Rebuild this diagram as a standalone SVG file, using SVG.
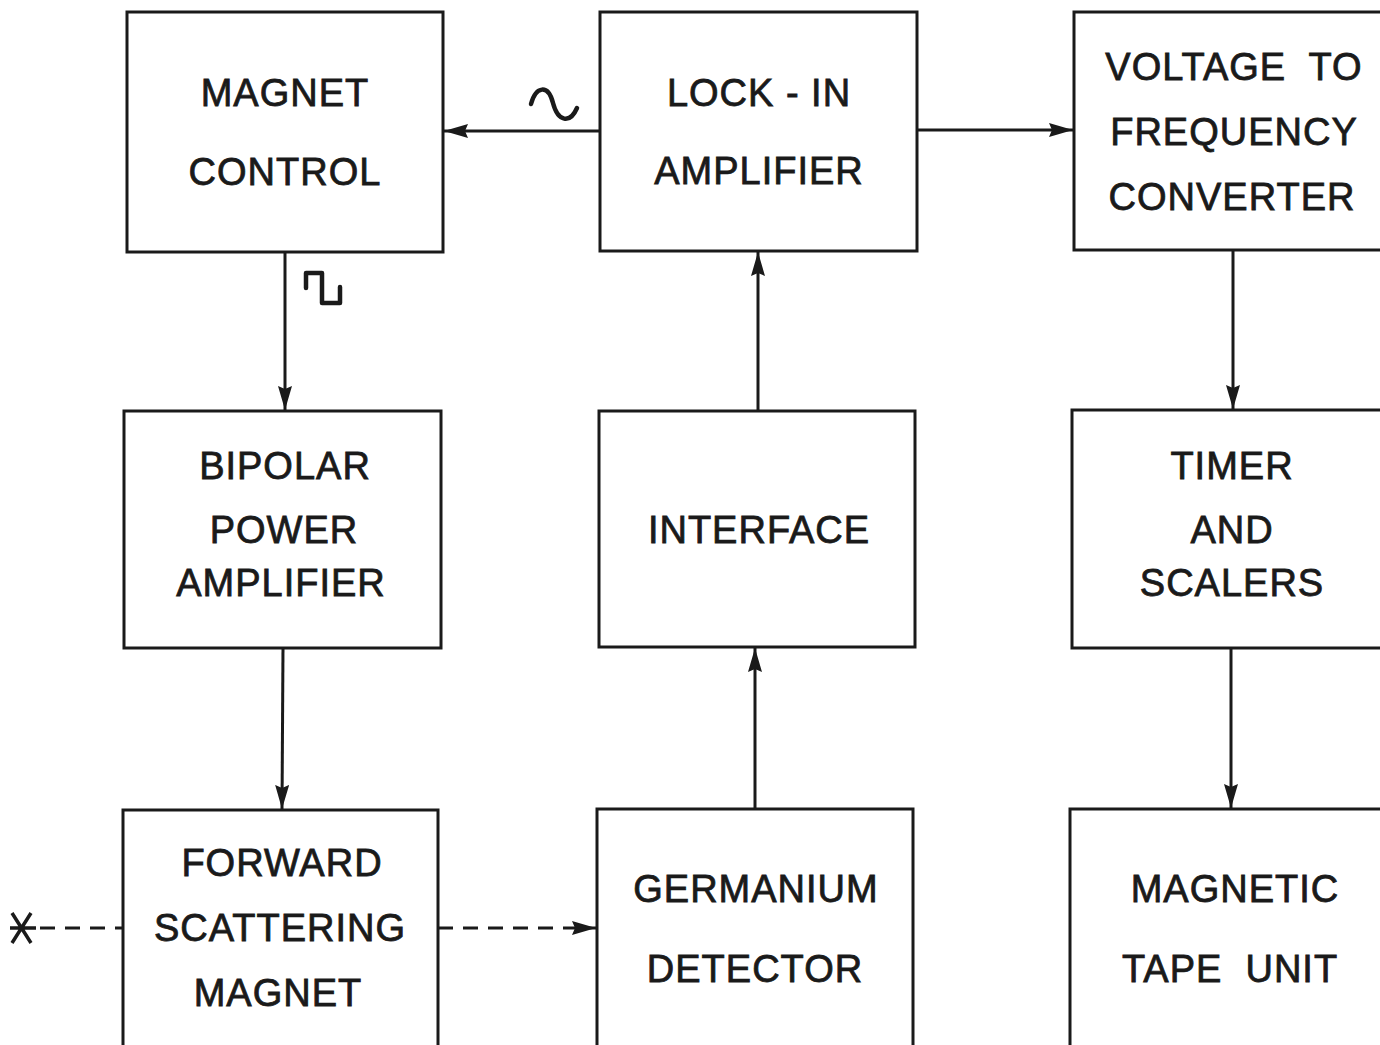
<svg xmlns="http://www.w3.org/2000/svg" width="1380" height="1045" viewBox="0 0 1380 1045">
<defs>
<style>
.box{fill:none;stroke:#1a1a1a;stroke-width:3}
.t{font-family:"Liberation Sans","DejaVu Sans",Arial,sans-serif;font-size:38px;fill:#1a1a1a;stroke:#1a1a1a;stroke-width:0.8;text-anchor:middle;letter-spacing:1px;white-space:pre}
.ln{fill:none;stroke:#1a1a1a;stroke-width:3}
.dash{fill:none;stroke:#1a1a1a;stroke-width:3;stroke-dasharray:15 10}
.sym{fill:none;stroke:#1a1a1a;stroke-width:4.5;stroke-linecap:round;stroke-linejoin:round}
</style>
<marker id="ah" viewBox="0 0 24 14" refX="24" refY="7" markerWidth="24" markerHeight="14" markerUnits="userSpaceOnUse" orient="auto">
<path d="M0,0 L24,7 L0,14 L3,7 Z" fill="#1a1a1a"/>
</marker>
</defs>
<rect width="1380" height="1045" fill="#ffffff"/>

<g id="magnet-control">
<rect class="box" x="127" y="12" width="316" height="240"/>
<text class="t" x="285" y="106">MAGNET</text>
<text class="t" x="285" y="185">CONTROL</text>
</g>
<g id="lock-in">
<rect class="box" x="600" y="12" width="317" height="239"/>
<text class="t" x="759" y="106">LOCK - IN</text>
<text class="t" x="759" y="184">AMPLIFIER</text>
</g>
<g id="v-to-f">
<rect class="box" x="1074" y="12" width="330" height="238"/>
<text class="t" x="1234" y="80" xml:space="preserve">VOLTAGE  TO</text>
<text class="t" x="1234" y="145">FREQUENCY</text>
<text class="t" x="1232" y="210">CONVERTER</text>
</g>
<g id="bipolar">
<rect class="box" x="124" y="411" width="317" height="237"/>
<text class="t" x="285" y="479">BIPOLAR</text>
<text class="t" x="284" y="543">POWER</text>
<text class="t" x="281" y="596">AMPLIFIER</text>
</g>
<g id="interface">
<rect class="box" x="599" y="411" width="316" height="236"/>
<text class="t" x="759" y="543">INTERFACE</text>
</g>
<g id="timer">
<rect class="box" x="1072" y="410" width="330" height="238"/>
<text class="t" x="1232" y="479">TIMER</text>
<text class="t" x="1232" y="543">AND</text>
<text class="t" x="1232" y="596">SCALERS</text>
</g>
<g id="forward">
<rect class="box" x="123" y="810" width="315" height="260"/>
<text class="t" x="282" y="876">FORWARD</text>
<text class="t" x="280" y="941">SCATTERING</text>
<text class="t" x="278" y="1006">MAGNET</text>
</g>
<g id="germanium">
<rect class="box" x="597" y="809" width="316" height="260"/>
<text class="t" x="756" y="902">GERMANIUM</text>
<text class="t" x="755" y="982">DETECTOR</text>
</g>
<g id="tape">
<rect class="box" x="1070" y="809" width="330" height="260"/>
<text class="t" x="1235" y="902">MAGNETIC</text>
<text class="t" x="1230" y="982" xml:space="preserve">TAPE  UNIT</text>
</g>

<g id="connectors">
<line class="ln" x1="600" y1="131" x2="444" y2="131" marker-end="url(#ah)"/>
<line class="ln" x1="917" y1="130" x2="1073" y2="130" marker-end="url(#ah)"/>
<line class="ln" x1="285" y1="252" x2="285" y2="410" marker-end="url(#ah)"/>
<line class="ln" x1="283" y1="648" x2="282" y2="809" marker-end="url(#ah)"/>
<line class="ln" x1="758" y1="411" x2="758" y2="252" marker-end="url(#ah)"/>
<line class="ln" x1="755" y1="809" x2="755" y2="648" marker-end="url(#ah)"/>
<line class="ln" x1="1233" y1="250" x2="1233" y2="409" marker-end="url(#ah)"/>
<line class="ln" x1="1231" y1="648" x2="1231" y2="808" marker-end="url(#ah)"/>
<line class="dash" x1="40" y1="928" x2="123" y2="928"/>
<line class="dash" x1="438" y1="928" x2="596" y2="928" marker-end="url(#ah)"/>
<path class="sym" d="M531,104 C536,86 548,84 553,103 C558,122 570,124 577,108"/>
<path class="sym" d="M306,288 V273 H322 V303 H340 V287"/>
<path class="ln" d="M12,913 L31,943 M31,913 L12,943 M10,928 L36,928" style="stroke-width:3.5"/>
</g>
</svg>
